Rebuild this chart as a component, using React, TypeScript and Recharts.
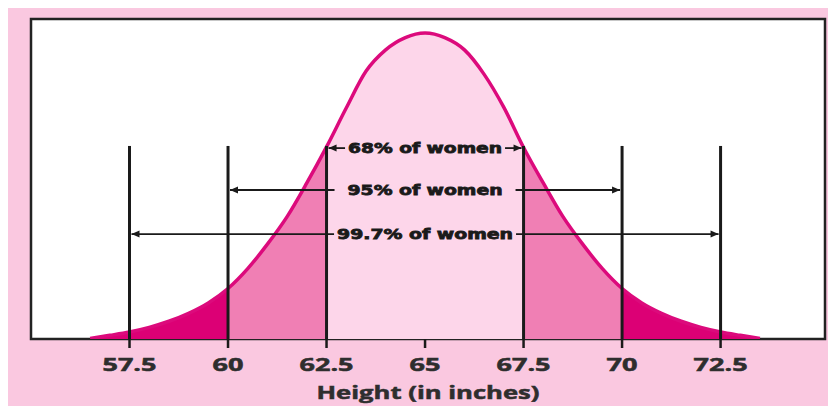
import React from 'react';
import { ComposedChart, Area, Line, XAxis, YAxis, ReferenceArea, ReferenceLine } from 'recharts';

// Height (inches) sample points and curve heights (peak = 1)
const HEIGHTS = [
  56.5, 57, 57.5, 58, 58.5, 59, 59.5, 60, 60.5, 61, 61.5, 62, 62.5, 63, 63.5, 64, 64.5, 65,
  65.5, 66, 66.5, 67, 67.5, 68, 68.5, 69, 69.5, 70, 70.5, 71, 71.5, 72, 72.5, 73, 73.5,
];
const DENSITY = [
  0.002, 0.012, 0.023, 0.038, 0.058, 0.084, 0.118, 0.165, 0.23, 0.31, 0.4, 0.51, 0.628, 0.755, 0.875, 0.945, 0.985, 1.0,
  0.985, 0.945, 0.865, 0.757, 0.626, 0.51, 0.4, 0.31, 0.23, 0.165, 0.118, 0.084, 0.058, 0.038, 0.023, 0.012, 0.002,
];

const TICKS = [57.5, 60, 62.5, 65, 67.5, 70, 72.5];
const MARKERS = [57.5, 60, 62.5, 67.5, 70, 72.5];
const MARKER_TOP = 0.631;

const ARROW_LABELS = ['68% of women', '95% of women', '99.7% of women'];
const ARROW_FROM = [62.5, 60, 57.5];
const ARROW_TO = [67.5, 70, 72.5];
const ARROW_LEVEL = [0.624, 0.487, 0.343];

const X_DOMAIN: [number, number] = [55, 75.15];
const Y_MAX = 1.046;

const data = HEIGHTS.map((h, i) => {
  const v = DENSITY[i];
  return {
    h,
    all: v,
    tail: h <= 60 || h >= 70 ? v : null,
    mid: (h >= 60 && h <= 62.5) || (h >= 67.5 && h <= 70) ? v : null,
    center: h >= 62.5 && h <= 67.5 ? v : null,
  };
});

const BG = '#fac8e0';
const CENTER = '#fdd6ea';
const MID = '#f07fb4';
const TAIL = '#dc0075';
const CURVE = '#dc0a7c';
const INK = '#1a1a1a';

const ARROW_WIDTHS = [154, 155, 176];
const ARROW_GAPS = [3, 13, 3];

function TickLabel(props: any) {
  const { x, y, payload } = props;
  const s = String(payload.value);
  const w = Array.from(s).reduce((a, c) => a + (c === '.' ? 7.5 : 15.5), 0);
  return (
    <text
      x={x}
      y={y}
      dy="0.71em"
      textAnchor="middle"
      fontFamily="'Open Sans', sans-serif"
      fontWeight={700}
      fontSize={17}
      fill="#2e2e2e"
      stroke="#2e2e2e"
      strokeWidth={0.5}
      textLength={w}
      lengthAdjust="spacingAndGlyphs"
    >
      {s}
    </text>
  );
}

const makeArrow = (i: number) => (p: any) => {
  const { x1, x2, y1 } = p;
  const mid = (x1 + x2) / 2;
  const w = ARROW_WIDTHS[i];
  const gap = ARROW_GAPS[i];
  const L = x1 + 2;
  const R = x2 - 2;
  const ah = 8;
  const aw = 3.5;
  return (
    <g>
      <line x1={L} x2={mid - w / 2 - gap} y1={y1} y2={y1} stroke={INK} strokeWidth={1.8} />
      <line x1={mid + w / 2 + gap} x2={R} y1={y1} y2={y1} stroke={INK} strokeWidth={1.8} />
      <polygon points={`${L},${y1} ${L + ah},${y1 - aw} ${L + ah},${y1 + aw}`} fill={INK} />
      <polygon points={`${R},${y1} ${R - ah},${y1 - aw} ${R - ah},${y1 + aw}`} fill={INK} />
      <text
        x={mid}
        y={y1}
        dy="0.36em"
        textAnchor="middle"
        fontFamily="'DejaVu Sans', sans-serif"
        fontWeight={700}
        fontSize={14}
        fill={INK}
        stroke={INK}
        strokeWidth={0.8}
        textLength={w}
        lengthAdjust="spacingAndGlyphs"
      >
        {ARROW_LABELS[i]}
      </text>
    </g>
  );
};

const AxisTitle = (props: any) => {
  const vb = props.viewBox || {};
  return (
    <text
      x={vb.x + vb.width / 2}
      y={vb.y + vb.height - 7}
      textAnchor="middle"
      fontFamily="'Open Sans', sans-serif"
      fontWeight={700}
      fontSize={18}
      fill="#2e2e2e"
      stroke="#2e2e2e"
      strokeWidth={0.5}
      textLength={223}
      lengthAdjust="spacingAndGlyphs"
    >
      Height (in inches)
    </text>
  );
};

export default function App() {
  return (
    <div style={{ marginTop: -3, width: 828, height: 401, background: BG }}>
      <ComposedChart width={828} height={401} data={data} margin={{ top: 14, right: 11, bottom: 0, left: 23 }}>
        <XAxis
          dataKey="h"
          type="number"
          domain={X_DOMAIN}
          ticks={TICKS}
          allowDataOverflow
          height={67}
          axisLine={false}
          tickSize={9}
          tickMargin={11}
          tickLine={{ stroke: INK, strokeWidth: 2.5 }}
          tick={<TickLabel />}
          interval={0}
          label={<AxisTitle />}
        />
        <YAxis hide type="number" domain={[0, Y_MAX]} allowDataOverflow />
        <ReferenceArea
          x1={X_DOMAIN[0]}
          x2={X_DOMAIN[1]}
          y1={0}
          y2={Y_MAX}
          fill="#ffffff"
          fillOpacity={1}
          stroke="#222"
          strokeWidth={2.5}
        />
        <Area dataKey="center" type="monotone" stroke="none" fill={CENTER} fillOpacity={1} isAnimationActive={false} activeDot={false} />
        <Area dataKey="mid" type="monotone" stroke="none" fill={MID} fillOpacity={1} isAnimationActive={false} activeDot={false} />
        <Area dataKey="tail" type="monotone" stroke="none" fill={TAIL} fillOpacity={1} isAnimationActive={false} activeDot={false} />
        <Line dataKey="all" type="monotone" stroke={CURVE} strokeWidth={3.5} dot={false} activeDot={false} isAnimationActive={false} />
        {MARKERS.map((m) => (
          <ReferenceLine
            key={m}
            segment={[{ x: m, y: 0 }, { x: m, y: MARKER_TOP }]}
            stroke={INK}
            strokeWidth={3}
          />
        ))}
        {ARROW_LABELS.map((lab, i) => (
          <ReferenceLine
            key={lab}
            segment={[{ x: ARROW_FROM[i], y: ARROW_LEVEL[i] }, { x: ARROW_TO[i], y: ARROW_LEVEL[i] }]}
            stroke={INK}
            shape={makeArrow(i)}
          />
        ))}
      </ComposedChart>
    </div>
  );
}
